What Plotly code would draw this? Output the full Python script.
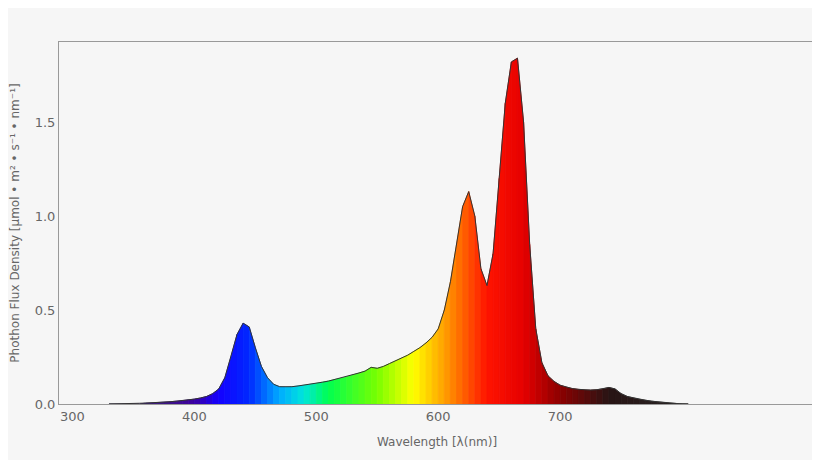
import plotly.graph_objects as go

wavelength = list(range(330, 810, 5))
flux = [0,0,.001,.002,.003,.004,.005,.006,.008,.01,.012,.015,.018,.022,.026,.032,.04,.055,.08,.14,.25,.37,.43,.41,.3,.2,.14,.105,.092,.09,.092,.096,.1,.105,.11,.116,.122,.13,.137,.145,.155,.165,.175,.195,.19,.2,.215,.23,.245,.26,.28,.3,.325,.355,.4,.5,.65,.85,1.05,1.13,1.0,.72,.63,.8,1.2,1.6,1.82,1.84,1.5,.85,.4,.22,.15,.12,.1,.09,.082,.078,.075,.074,.076,.08,.088,.08,.055,.04,.032,.025,.02,.015,.011,.008,.005,.003,.001,0]

stops = [(330,(60,60,80)),(400,(60,0,160)),(420,(20,0,255)),(445,(0,40,255)),(470,(0,170,255)),(490,(0,230,220)),(510,(0,255,80)),(550,(120,255,0)),(580,(255,255,0)),(605,(255,160,0)),(640,(255,20,0)),(670,(230,0,0)),(700,(140,0,0)),(740,(40,20,20)),(810,(40,40,40))]
def col(w):
    for (a,ca),(b,cb) in zip(stops,stops[1:]):
        if a<=w<=b:
            t=(w-a)/(b-a)
            return "rgb(%d,%d,%d)"%tuple(round(ca[i]+(cb[i]-ca[i])*t) for i in range(3))
    return "rgb(40,40,40)"

fig = go.Figure()
for i in range(len(wavelength)-1):
    x0, x1 = wavelength[i], wavelength[i+1]
    y0, y1 = flux[i], flux[i+1]
    c = col((x0+x1)/2)
    fig.add_scatter(x=[x0, x1, x1, x0, x0], y=[0, 0, y1, y0, 0], mode="lines", fill="toself",
                    fillcolor=c, line=dict(color=c, width=0.8), hoverinfo="skip")
fig.add_scatter(x=wavelength, y=flux, mode="lines", line=dict(color="#333", width=1))
fig.update_layout(width=820, height=460, showlegend=False,
    paper_bgcolor="#f6f6f6", plot_bgcolor="#f6f6f6",
    margin=dict(l=51, r=13, t=34, b=64, autoexpand=False),
    font=dict(family="DejaVu Sans", color="#666", size=13))
fig.update_xaxes(range=[289, 909], tickvals=[300,400,500,600,700], showgrid=False, zeroline=False,
    showline=True, mirror=True, linecolor="#999", ticks="",
    title=dict(text="Wavelength [λ(nm)]", font=dict(size=12)))
fig.update_yaxes(range=[0, 1.926], tickvals=[0,0.5,1.0,1.5], ticktext=["0.0","0.5","1.0","1.5"], showgrid=False, zeroline=False,
    showline=True, mirror=True, linecolor="#999",
    title=dict(text="Phothon Flux Density [µmol • m² • s⁻¹ • nm⁻¹]", font=dict(size=12)))
fig.write_html("out.html")
